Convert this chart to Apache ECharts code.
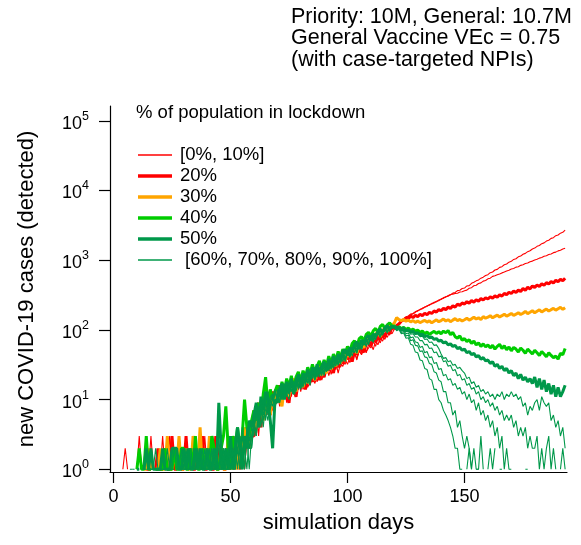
<!DOCTYPE html>
<html><head><meta charset="utf-8">
<script src="https://cdn.jsdelivr.net/npm/echarts@6/dist/echarts.min.js"></script>
<style>html,body{margin:0;padding:0;background:#fff}#c{width:581px;height:545px}</style>
</head><body><div id="c"></div>
<script>
// ---- data (daily new detected cases, day 0..193) ----
const xTicks = [0, 50, 100, 150];
const yTicks = [1, 10, 100, 1000, 10000, 100000];

const lockdown0 = [
0,0,0,0,1,2,1,0,0,0, 1,3,1,0,1,1,2,1,0,1, 1,3,1,1,2,1,1,0,1,2, 1,1,2,1,0,1,2,1,1,3, 1,2,1,1,2,1,3,1,2,1,
2,1,3,2,1,2,1,3,4,3, 4,7,3,8,5,10,6,12,7,9, 14,8,12,16,9,15,11,18,12,20, 13,19,22,15,18,25,17,21,28,19, 24,31,22,29,26,35,24,33,30,38,
32,41,36,46,39,50,44,57,47,62, 55,68,58,76,65,82,73,92,84,101, 104,112,122,133,144,154,158,169,172,183, 186,197,201,214,217,231,235,249,252,268,
273,290,295,311,318,337,344,366,371,392, 398,427,431,466,482,505,521,552,571,603, 620,662,676,722,738,789,806,860,880,936,
962,1025,1048,1118,1145,1217,1252,1325,1364,1448, 1490,1580,1622,1725,1770,1880,1934,2055,2101,2245, 2295,2440,2510,2700];
const lockdown10 = [
0,0,0,0,0,0,0,0,0,0, 0,0,1,1,0,1,3,1,1,0, 1,1,2,1,3,1,1,2,1,0, 1,2,1,1,2,1,0,1,2,1, 2,1,1,3,1,2,1,1,2,1,
1,2,2,1,3,2,1,3,2,5, 6,3,7,5,9,6,11,7,13,8, 10,15,9,13,17,11,16,12,19,14, 20,14,17,23,16,21,26,18,24,29, 21,28,33,23,31,27,37,29,35,32,
43,34,40,48,37,52,45,58,49,55, 63,52,70,61,77,69,85,78,94,88, 102,110,118,128,139,150,155,164,170,178, 190,194,205,210,222,226,240,243,258,262,
279,283,300,304,322,326,333,336,349,353, 364,372,396,403,429,436,463,472,500,510, 540,552,585,598,618,634,657,676,700,717,
748,760,795,806,843,858,894,909,950,970, 1008,1028,1070,1090,1135,1158,1205,1230,1282,1305, 1360,1385,1445,1480];
const lockdown20 = [
0,0,0,0,0,0,0,0,0,0, 0,1,0,0,1,1,1,0,1,2, 1,1,2,1,1,3,1,1,2,1, 1,3,1,2,1,1,2,1,3,1, 1,2,1,1,3,1,2,1,1,2,
1,3,1,2,1,2,3,2,4,3, 3,6,9,4,10,7,12,6,13,9, 11,16,10,15,12,9,18,14,11,19, 17,22,14,19,25,18,23,28,19,26, 21,30,26,34,24,36,29,39,33,42,
38,47,35,50,44,57,51,48,63,70, 59,74,68,83,72,91,80,97,89,110, 106,116,122,134,139,149,144,158,150,162, 155,168,160,173,165,179,172,187,180,196,
188,204,195,212,203,222,212,234,224,243, 235,254,242,263,250,270,258,281,268,289, 277,298,285,307,294,320,305,334,318,346,
332,361,343,372,356,392,371,408,387,426, 404,440,420,458,435,476,454,495,470,514, 492,531,506,552];
const lockdown30 = [
0,1,0,0,0,0,0,0,0,0, 0,0,0,1,1,2,1,0,1,1, 2,1,1,3,1,1,2,1,3,1, 1,2,1,1,3,2,1,4,1,2, 1,3,1,2,1,1,2,1,1,3,
2,1,2,1,3,2,4,3,2,4, 7,4,6,9,5,8,12,6,11,9, 14,10,8,15,17,11,16,20,13,18, 21,15,24,17,22,28,19,25,31,22, 29,24,35,27,37,30,40,33,45,36,
50,41,53,58,46,62,67,55,74,70, 82,73,86,95,80,98,107,94,112,118, 125,150,140,136,141,133,138,130,136,128, 134,127,132,137,129,135,126,133,139,131,
136,143,134,140,131,138,145,136,141,134, 140,147,138,144,152,143,149,141,155,147, 152,160,149,156,163,153,160,168,157,164,
172,161,168,176,166,173,184,171,179,188, 176,185,194,181,190,198,186,195,203,192, 201,210,197,208];
const lockdown40 = [
0,0,0,0,0,0,0,0,1,0, 1,2,1,1,3,1,1,0,1,1, 1,1,2,1,1,1,2,1,1,2, 2,1,1,2,1,3,1,1,2,1, 2,1,3,2,1,1,2,3,8,2,
1,3,2,4,2,3,10,4,3,5, 7,5,9,6,12,21,8,14,10,13, 16,11,18,13,20,15,22,14,21,25, 18,26,21,29,23,32,25,30,36,27, 37,30,42,33,45,36,49,40,53,46,
58,49,64,70,57,75,80,68,86,92, 81,97,105,92,112,120,104,118,126,113, 114,106,111,104,109,101,106,98,103,95, 99,92,96,88,93,86,91,95,89,94,
88,96,91,98,85,92,80,76,82,71, 75,68,72,64,69,61,65,58,63,57, 61,55,60,53,58,62,54,59,52,57,
50,56,53,48,55,51,46,53,49,45, 51,47,43,49,45,41,47,43,40,42, 38,46,44,54];
const lockdown50 = [
0,0,0,0,0,0,0,0,0,0, 1,1,0,1,2,1,2,1,1,1, 1,2,1,1,1,2,2,2,1,1, 2,1,2,1,1,2,1,2,1,1, 2,1,1,2,1,9,2,1,2,1,
3,1,2,4,2,1,3,2,5,4, 6,9,4,11,7,13,10,5,2,10, 9,14,17,10,18,13,20,12,17,23, 15,24,18,27,20,29,22,32,24,30, 35,26,38,29,42,33,45,36,49,52,
43,56,48,63,67,55,72,61,78,83, 70,88,79,96,103,90,108,115,102,112, 110,104,108,100,103,97,100,93,96,88, 91,85,87,80,83,77,79,73,75,69,
71,65,67,61,63,58,60,54,56,51, 53,47,49,44,46,41,43,38,40,36, 37,33,35,30,32,28,30,26,28,24,
26,22,24,20,23,19,21,18,20,17, 21,15,20,14,19,13,17,12,16,11, 15,11,13,16];
const lockdown60 = [
0,0,0,0,0,0,0,1,1,0, 0,0,1,1,0,0,1,1,0,0, 0,1,1,0,1,1,0,1,1,1, 0,1,1,1,0,2,1,1,1,0, 1,2,1,1,2,1,1,2,1,1,
2,1,3,2,1,4,2,3,1,3, 4,8,5,10,6,9,13,7,11,8, 12,15,10,16,12,18,13,16,21,14, 18,23,16,25,19,22,29,21,26,31, 24,33,27,36,28,39,32,43,35,47,
50,41,55,47,61,52,66,71,58,76, 80,68,87,93,79,99,106,92,111,116, 107,113,108,106,110,100,101,93,95,87, 88,80,81,73,74,66,67,60,61,54,
45,39,40,35,36,31,32,28,29,26, 24,20,21,17,18,15,16,13,14,12, 13,11,12,10,12,11,13,10,12,11,
13,11,12,10,11,8,9,6,8,7, 9,10,7,11,9,8,9,5,6,4, 5,3,4,2];
const lockdown70 = [
0,0,0,0,0,0,0,0,1,1, 0,0,0,1,1,0,0,1,2,1, 1,0,1,2,1,1,0,0,1,2, 1,2,1,1,0,1,2,1,1,2, 1,1,2,1,1,3,1,1,2,1,
1,2,1,3,2,2,1,4,2,3, 5,3,8,6,9,5,11,8,10,14, 9,13,11,17,12,10,18,14,19,15, 20,15,24,19,16,26,19,27,21,29, 22,32,26,34,29,38,31,41,44,35,
47,52,42,57,48,64,53,69,74,61, 82,86,72,93,99,84,105,110,95,114, 111,104,109,100,104,95,96,87,88,79, 79,70,70,61,62,54,55,47,48,41,
42,35,36,30,31,26,27,22,23,19, 20,16,17,14,15,12,13,10,11,9, 10,8,9,7,8,6,7,5,6,5,
6,4,5,3,4,3,4,2,3,2, 2,3,1,2,1,2,3,1,2,1, 0,1,2,1];
const lockdown80 = [
0,0,0,0,0,0,0,0,0,0, 1,1,0,0,0,0,1,1,0,0, 0,1,1,0,0,1,2,1,0,1, 1,1,1,0,2,1,1,0,1,1, 1,0,1,2,1,1,2,1,1,1,
2,1,2,1,3,2,1,3,2,4, 3,7,4,8,5,10,6,9,12,7, 14,9,15,11,16,12,18,12,16,21, 14,21,17,24,17,26,19,23,28,22, 31,25,33,27,37,30,40,32,44,37,
48,40,53,56,46,63,52,69,58,75, 79,66,86,91,78,97,104,90,110,113, 109,102,107,96,99,88,90,77,79,67, 66,56,58,47,49,40,41,33,34,27,
28,22,23,19,20,16,17,14,15,12, 13,10,12,9,10,7,9,6,7,5, 6,4,5,3,4,2,3,1,2,1,
1,0,0,1,0,0,1,1,0,0, 0,1,0,0,0,0,0,1,0,0, 0,0,0,0];
const lockdown90 = [
0,0,0,0,0,0,0,0,0,0, 0,0,0,0,1,1,0,0,1,1, 1,1,0,1,1,0,0,1,1,0, 1,1,0,2,1,1,0,1,2,1, 1,1,1,1,0,2,1,1,1,2,
1,2,1,2,1,3,2,1,3,2, 4,6,7,4,9,7,5,10,8,13, 10,14,10,15,11,17,14,12,19,16, 21,16,22,17,25,20,27,22,29,24, 26,33,28,36,31,38,41,34,44,48,
50,43,55,58,49,65,56,70,73,64, 83,72,88,92,85,99,95,108,104,116, 110,103,104,92,95,82,84,70,72,60, 59,49,50,41,40,33,32,25,24,19,
18,13,13,9,9,6,7,4,5,3, 2,3,2,1,2,1,1,3,1,0, 1,2,1,2,0,1,1,0,0,0,
0,0,1,0,0,0,0,0,0,1, 0,0,0,0,1,0,0,0,0,0, 0,0,0,0];
const lockdown100 = [
0,0,0,0,0,0,0,0,0,0, 0,0,0,0,0,1,1,1,1,0, 1,1,0,0,1,1,1,0,1,1, 1,1,0,1,1,1,0,2,1,1, 1,1,2,1,1,1,1,2,1,1,
2,1,1,3,2,1,2,3,2,2, 5,3,7,8,4,9,7,11,12,8, 12,9,15,11,16,12,17,18,13,19, 20,16,22,24,18,26,21,28,23,30, 32,27,34,35,31,40,33,43,45,39,
52,44,56,59,53,64,60,71,66,77, 81,74,88,85,95,90,103,98,110,106, 108,97,101,88,90,76,77,62,60,48, 47,37,36,28,27,20,19,14,14,10,
9,7,6,5,4,3,2,2,1,1, 0,1,2,1,0,1,1,0,0,0, 0,0,0,0,0,0,0,0,1,0,
0,0,0,0,0,0,0,0,0,0, 0,0,0,0,0,0,0,0,0,0, 0,0,0,0];

const days = lockdown0.map((_, i) => i);

const FONT = "'Liberation Sans', Arial, sans-serif";
const RED = '#ff0000', ORANGE = '#ffa500', GREEN = '#00cd00', DKGREEN = '#00984a';

const groups = [
  { name: '[0%, 10%]', arrs: [lockdown0, lockdown10], color: RED, w: 1.1 },
  { name: '20%', arrs: [lockdown20], color: RED, w: 3 },
  { name: '30%', arrs: [lockdown30], color: ORANGE, w: 3 },
  { name: '40%', arrs: [lockdown40], color: GREEN, w: 3 },
  { name: '50%', arrs: [lockdown50], color: DKGREEN, w: 3 },
  { name: '[60%, 70%, 80%, 90%, 100%]', arrs: [lockdown60, lockdown70, lockdown80, lockdown90, lockdown100], color: DKGREEN, w: 1.1 }
];

const series = [];
groups.forEach(g => {
  g.arrs.forEach(arr => {
    series.push({
      type: 'line', name: g.name, showSymbol: false, symbol: 'none',
      connectNulls: false, animation: false, silent: true,
      color: g.color,
      lineStyle: { color: g.color, width: g.w },
      data: arr.map((v, i) => [days[i], v > 0 ? v : '-'])
    });
  });
});

const legends = groups.map((g, i) => ({
  data: [g.name], left: 138, top: 145 + i * 21, padding: 0,
  icon: 'rect', itemWidth: 34, itemHeight: g.w > 2 ? 3.5 : 1.5,
  selectedMode: false,
  textStyle: { fontFamily: FONT, fontSize: 18.5, color: '#000', lineHeight: 20,
               padding: [0, 0, 0, i === 5 ? 8 : 3] }
}));

const chart = echarts.init(document.getElementById('c'), null, { renderer: 'canvas' });
chart.setOption({
  backgroundColor: '#fff',
  animation: false,
  textStyle: { fontFamily: FONT },
  title: [
    { text: 'Priority: 10M, General: 10.7M\nGeneral Vaccine VEc = 0.75\n(with case-targeted NPIs)',
      left: 291, top: 6, padding: 0,
      textStyle: { fontFamily: FONT, fontSize: 21.5, fontWeight: 'normal', color: '#000', lineHeight: 21.5 } },
    { text: '% of population in lockdown', left: 136, top: 102, padding: 0,
      textStyle: { fontFamily: FONT, fontSize: 18.5, fontWeight: 'normal', color: '#000', lineHeight: 22 } }
  ],
  legend: legends,
  grid: { left: 110, right: 14, top: 106, bottom: 73, containLabel: false, outerBoundsMode: 'none' },
  xAxis: {
    type: 'value', min: -1.5, max: 193.8,
    axisLine: { show: true, onZero: false, lineStyle: { color: '#000', width: 1.2 } },
    axisTick: { show: true, customValues: xTicks, length: 11, lineStyle: { color: '#000', width: 1.2 } },
    axisLabel: { customValues: xTicks, margin: 16, fontSize: 18, color: '#000', fontFamily: FONT },
    splitLine: { show: false },
    name: 'simulation days', nameLocation: 'middle', nameGap: 40,
    nameTextStyle: { fontSize: 22, color: '#000', fontFamily: FONT }
  },
  yAxis: {
    type: 'log', logBase: 10, min: 0.914, max: 162900,
    axisLine: { show: true, onZero: false, lineStyle: { color: '#000', width: 1.2 } },
    axisTick: { show: true, customValues: yTicks, length: 11, lineStyle: { color: '#000', width: 1.2 } },
    axisLabel: {
      customValues: yTicks, margin: 21, color: '#000', fontFamily: FONT,
      formatter: v => '{b|10}{e|' + Math.round(Math.log10(v)) + '}',
      rich: {
        b: { fontSize: 18, fontFamily: FONT, color: '#000', lineHeight: 22, padding: [6, 0, 0, 0] },
        e: { fontSize: 12.5, fontFamily: FONT, color: '#000', lineHeight: 13, verticalAlign: 'top' }
      }
    },
    splitLine: { show: false }, minorTick: { show: false },
    name: 'new COVID-19 cases (detected)', nameLocation: 'middle', nameGap: 72, nameRotate: 90,
    nameTextStyle: { fontSize: 22, color: '#000', fontFamily: FONT }
  },
  series: series
});
</script>
</body></html>
